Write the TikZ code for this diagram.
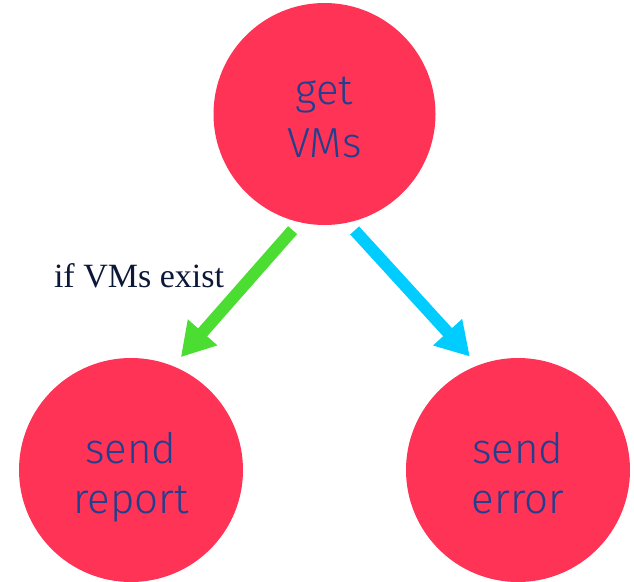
\documentclass[tikz,border=0pt]{standalone}
\usepackage{fontspec}
\setsansfont{Fira Sans Light}
\newfontfamily\labelfont{Liberation Serif}
\usetikzlibrary{arrows.meta}
\definecolor{nodered}{HTML}{FF3355}
\definecolor{nodetext}{HTML}{1F3F8F}
\definecolor{okgreen}{HTML}{4CDD33}
\definecolor{errblue}{HTML}{00CCFF}
\definecolor{labelnavy}{HTML}{0B1838}
\newcommand{\topfix}[1]{\rule{0pt}{#1}}
\newcommand{\botfix}{\rule[-10pt]{0pt}{10pt}}
\tikzset{
  state/.style={circle, fill=nodered, draw=none, text=nodetext, align=center,
    font=\sffamily\fontsize{42}{50}\selectfont, inner sep=0pt, minimum size=224pt},
  flow/.style={line width=12pt, -{Triangle[length=33pt,width=37pt]}},
  edgelabel/.style={text=labelnavy, font=\labelfont\fontsize{34}{38}\selectfont}
}
\begin{document}
\begin{tikzpicture}[x=1pt,y=-1pt]
\useasboundingbox (0,0) rectangle (634,581);
\node[state, minimum size=222pt, font=\sffamily\fontsize{42}{53}\selectfont] (get) at (324.5,114) {\topfix{43pt}get\\VMs\botfix};
\node[state] (report) at (131,470) {\topfix{46pt}send\\report\botfix};
\node[state] (error) at (518,470) {\topfix{46pt}send\\error\botfix};
\draw[flow, okgreen, shorten <=10.4pt, shorten >=11.8pt] (get.257.2) -- (report.68.45);
\draw[flow, errblue, shorten <=10.4pt, shorten >=11.8pt] (get.282.8) -- (error.111.55);
\node[edgelabel, anchor=base] (lbl) at (139,287) {if VMs exist};
\end{tikzpicture}
\end{document}
